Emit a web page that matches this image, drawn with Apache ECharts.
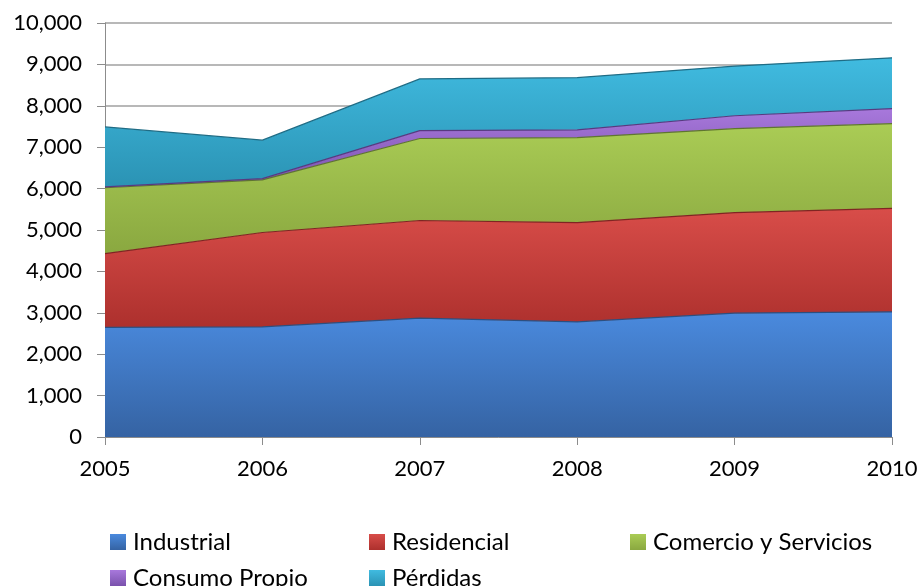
<!DOCTYPE html>
<html>
<head>
<meta charset="utf-8">
<script src="https://cdn.jsdelivr.net/npm/echarts@6/dist/echarts.min.js"></script>
<style>
  html, body { margin: 0; padding: 0; background: #fff; }
  #chart { width: 921px; height: 586px; }
</style>
</head>
<body>
<div id="chart"></div>
<script>
// Years on the category axis
const years = ['2005', '2006', '2007', '2008', '2009', '2010'];

// Energy by sector (stacked)
const industrial    = [2650, 2660, 2870, 2780, 2990, 3020];
const residencial   = [1780, 2280, 2360, 2400, 2430, 2500];
const comercio      = [1590, 1270, 1980, 2050, 2030, 2050];
const consumoPropio = [20, 30, 190, 190, 310, 360];
const perdidas      = [1450, 930, 1250, 1260, 1200, 1230];

const seriesNames = ['Industrial', 'Residencial', 'Comercio y Servicios', 'Consumo Propio', 'Pérdidas'];
const seriesData = [industrial, residencial, comercio, consumoPropio, perdidas];

// top / bottom gradient colours and edge colour per band
const palette = [
  { top: '#4a8ade', bottom: '#3563a3', edge: '#2c4f80' },
  { top: '#d84d49', bottom: '#ad302d', edge: '#7f2522' },
  { top: '#aacc55', bottom: '#8aa840', edge: '#5f7530' },
  { top: '#a878dc', bottom: '#7a52ac', edge: '#573a80' },
  { top: '#40bbe0', bottom: '#2b93b4', edge: '#1f6c85' }
];

const fontFamily = 'Lato, "Open Sans", sans-serif';

const chart = echarts.init(document.getElementById('chart'), null, { renderer: 'canvas' });

const fill = i => new echarts.graphic.LinearGradient(0, 0, 0, 1, [
  { offset: 0, color: palette[i].top },
  { offset: 1, color: palette[i].bottom }
]);

const series = seriesData.map((data, i) => ({
  name: seriesNames[i],
  type: 'line',
  stack: 'total',
  data: data,
  symbol: 'none',
  lineStyle: { color: palette[i].edge, width: 1.2 },
  itemStyle: { color: fill(i) },
  areaStyle: { opacity: 1, color: fill(i) },
  emphasis: { disabled: true }
}));

// one legend block per entry, laid out in a 3-column grid
const legendCols = [110, 369, 630];
const legendRows = [530, 566];
const legends = seriesNames.map((name, i) => ({
  left: legendCols[i % 3],
  top: legendRows[Math.floor(i / 3)],
  padding: 0,
  itemWidth: 16,
  itemHeight: 16,
  icon: 'rect',
  selectedMode: false,
  textStyle: { fontFamily: fontFamily, fontSize: 24, lineHeight: 24, color: '#000', padding: [0, 0, 0, 2] },
  data: [name]
}));

chart.setOption({
  animation: false,
  backgroundColor: '#fff',
  grid: { left: 105, right: 29, top: 23, bottom: 149, containLabel: false },
  legend: legends,
  xAxis: {
    type: 'category',
    data: years,
    boundaryGap: false,
    axisLine: { lineStyle: { color: '#8c8c8c', width: 1 } },
    axisTick: { show: true, alignWithLabel: true, length: 8, lineStyle: { color: '#8c8c8c' } },
    axisLabel: { fontFamily: fontFamily, fontSize: 22, color: '#000', margin: 21 },
    splitLine: { show: false }
  },
  yAxis: {
    type: 'value',
    min: 0,
    max: 10000,
    interval: 1000,
    axisLine: { show: true, lineStyle: { color: '#8c8c8c', width: 1 } },
    axisTick: { show: true, length: 8, lineStyle: { color: '#8c8c8c' } },
    axisLabel: {
      fontFamily: fontFamily, fontSize: 22, color: '#000', margin: 23,
      formatter: v => v.toLocaleString('en-US')
    },
    splitLine: { show: true, lineStyle: { color: '#a0a0a0', width: 1.5 } }
  },
  series: series
});
</script>
</body>
</html>
